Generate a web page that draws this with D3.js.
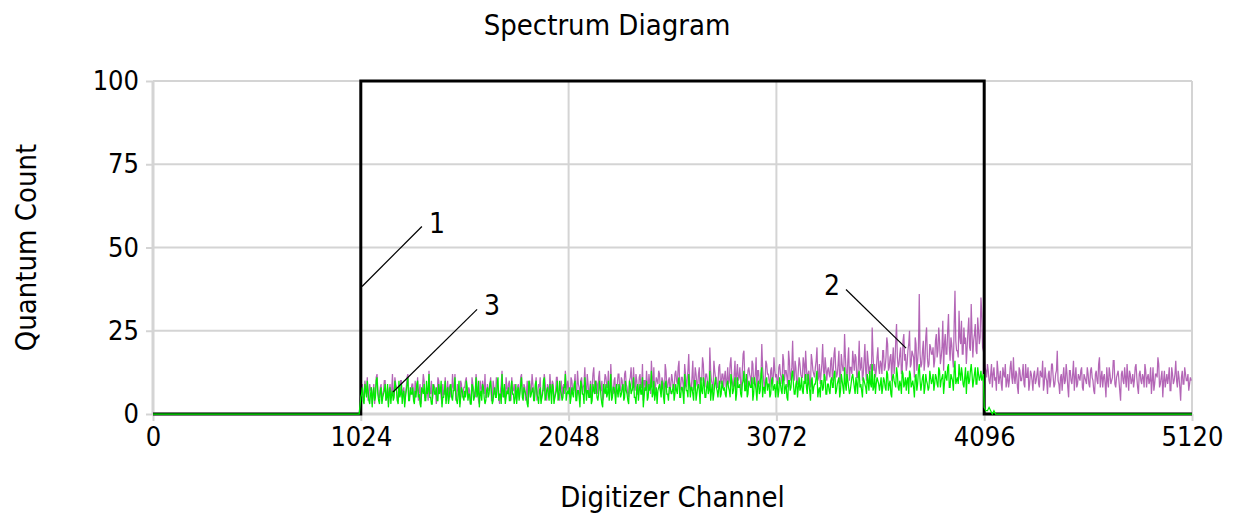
<!DOCTYPE html>
<html><head><meta charset="utf-8">
<script src="https://cdn.jsdelivr.net/npm/d3@7"></script>
<style>
body{margin:0;background:#fff;}
text{font-family:"DejaVu Sans Condensed","DejaVu Sans","Liberation Sans",sans-serif;fill:#000;}
</style></head>
<body><svg id="c" width="1234" height="517"></svg>
<script>
// ---- data ----
const xTicks = [0, 1024, 2048, 3072, 4096, 5120];
const yTicks = [0, 25, 50, 75, 100];
const channelStep = 8;   // spacing inside each sample array
const interleaveOffset = 4; // second sample array sits halfway between

// series 1 (black square window)
const windowChannels = [0, 1024, 1024, 4096, 4096, 5120];
const windowValues   = [0, 0, 100, 100, 0, 0];

// series 2 (purple)
const purpleLeadChannels = [0, 1016];
const purpleLeadValues = [0, 0];
const purpleStart = 1024;
const purpleValuesA = [
6,9,4,8,11,5,7,3,9,6,12,5,8,4,7,10,6,3,9,7,5,11,8,4,6,10,7,3,8,12,5,7,
9,4,6,11,7,3,8,10,5,7,13,6,4,9,7,5,10,8,3,6,11,7,4,9,6,8,12,5,7,3,9,6,
8,11,5,7,4,9,6,12,7,3,8,10,6,5,9,7,11,4,8,6,10,5,7,13,6,4,8,9,5,11,7,6,
4,9,7,12,5,8,6,3,10,7,9,5,11,6,8,4,7,12,6,9,5,8,10,4,7,11,6,8,5,9,13,7,
8,5,10,7,12,6,9,4,11,8,14,6,9,7,5,12,8,10,6,13,7,4,9,11,8,6,15,7,10,5,9,12,
7,10,6,13,8,5,11,9,14,7,10,6,12,8,4,10,13,7,9,16,8,6,11,9,12,7,10,5,13,8,11,9,
10,7,13,9,16,8,11,6,12,10,18,8,11,7,14,9,12,6,10,15,8,12,9,20,10,7,13,11,8,15,9,12,
11,8,14,10,17,9,12,7,15,11,9,13,19,10,8,14,11,16,9,12,7,13,10,21,11,9,15,12,8,14,10,13,
12,9,15,11,18,10,13,8,16,12,22,10,14,9,17,12,11,15,19,10,13,8,16,12,14,20,11,9,15,13,17,10,
14,11,17,13,20,11,15,9,18,13,24,12,16,10,14,19,13,17,11,22,14,10,16,13,19,12,15,26,13,11,17,14,
16,12,19,14,23,13,17,10,20,15,27,14,18,12,22,16,13,19,25,15,18,11,21,16,36,14,19,13,23,17,15,20,
18,14,22,17,26,15,20,13,24,18,30,16,21,14,37,19,17,23,28,18,21,15,25,20,33,17,24,19,29,21,35,20,
17,13,15,10,12,8,14,11,16,9,13,7,12,15,10,8,14,11,17,9,12,6,13,10,15,8,11,14,9,12,7,13,
10,14,8,12,16,9,11,6,13,10,15,8,12,19,9,11,7,14,10,12,5,13,9,16,11,8,12,10,14,7,11,9,
12,8,14,10,6,13,9,17,11,8,12,5,10,14,9,11,16,8,12,10,4,13,9,11,15,7,12,10,8,14,11,6,
13,9,11,15,8,12,10,6,14,9,12,17,8,11,5,13,10,9,14,7,12,10,16,8,11,4,13,9,12,10,7,11
];
const purpleValuesB = [
7,5,10,6,4,9,8,6,3,11,7,5,9,6,10,4,8,7,5,12,6,9,4,7,10,5,8,6,11,4,7,9,
5,10,7,4,9,6,12,5,8,4,7,10,6,8,3,11,7,5,9,6,4,10,8,5,12,7,4,9,6,10,5,8,
10,6,8,3,11,7,5,9,4,10,6,8,12,5,7,9,4,10,6,11,7,3,9,5,8,11,6,10,4,7,9,5,
8,5,11,6,9,4,10,7,5,12,6,8,4,9,11,5,7,10,4,8,12,6,9,5,11,7,4,10,8,6,9,10,
6,11,7,9,5,13,8,10,6,9,7,12,5,10,8,14,6,9,11,7,10,5,12,8,13,7,9,6,11,8,12,7,
11,7,12,9,6,10,14,7,9,12,6,11,8,15,10,7,9,12,6,11,14,8,10,13,7,11,9,15,8,10,6,12,
8,12,10,14,7,11,9,15,8,13,10,7,16,9,12,8,14,11,17,9,12,10,7,13,9,16,11,8,14,10,12,8,
13,10,9,15,11,8,16,12,10,14,7,18,11,9,13,12,8,15,10,17,13,9,11,14,8,16,12,10,13,9,17,11,
10,14,12,9,16,13,11,19,10,14,12,16,9,13,15,11,17,10,14,12,9,18,13,11,16,10,15,12,21,11,14,13,
12,16,10,18,14,12,19,11,15,13,17,10,20,14,12,16,18,11,15,13,17,12,21,10,16,14,11,18,15,13,20,12,
15,19,13,17,21,14,18,16,12,22,17,15,20,13,24,18,15,21,14,19,17,23,13,20,18,15,22,16,26,14,21,18,
20,16,24,19,22,17,28,21,18,25,20,23,17,27,22,19,31,21,18,26,23,20,29,19,24,22,27,18,25,23,30,19,
14,11,13,9,15,12,10,7,13,11,9,14,11,8,12,10,16,9,11,13,8,14,10,12,9,15,11,7,13,10,12,9,
12,9,13,11,7,14,10,12,8,15,11,9,13,10,6,12,11,9,15,8,13,10,12,7,14,9,11,13,8,12,10,14,
9,13,11,7,12,10,15,8,13,11,9,14,8,12,10,16,9,11,13,7,12,10,14,8,11,13,9,12,10,15,8,12,
10,12,8,13,11,9,14,10,7,12,11,15,9,13,10,8,12,11,7,14,9,12,10,13,8,11,9,14,10,12,9,10
];

// series 3 (green)
const greenLeadChannels = [0, 1016];
const greenLeadValues = [0, 0];
const greenStart = 1024;
const greenValuesA = [
5,8,3,7,10,4,6,2,8,5,11,4,7,3,6,9,5,2,8,6,4,10,7,3,5,9,6,2,7,11,4,6,
8,3,5,10,6,2,7,9,4,6,12,5,3,8,6,4,9,7,2,5,10,6,3,8,5,7,11,4,6,2,8,5,
7,10,4,6,3,8,5,11,6,2,7,9,5,4,8,6,10,3,7,5,9,4,6,12,5,3,7,8,4,10,6,5,
3,8,6,11,4,7,5,2,9,6,8,4,10,5,7,3,6,11,5,8,4,7,9,3,6,10,5,7,4,8,12,6,
6,3,8,5,10,4,7,2,9,6,11,4,7,5,3,9,6,8,4,10,5,2,7,9,6,4,12,5,8,3,7,9,
5,8,4,10,6,3,9,7,11,5,8,4,9,6,2,8,10,5,7,13,6,4,8,7,9,5,8,3,10,6,8,7,
7,4,9,6,11,5,8,3,9,7,12,5,8,4,10,6,9,3,7,11,5,8,6,13,7,4,9,8,5,10,6,8,
8,5,10,7,12,6,9,4,11,8,6,9,13,7,5,10,8,11,6,9,4,10,7,14,8,6,11,9,5,10,7,9,
8,5,11,7,12,6,9,4,10,8,13,6,9,5,11,8,7,10,12,6,9,4,11,8,9,13,7,5,10,8,11,6,
9,6,11,8,13,7,10,5,12,8,14,7,10,6,9,12,8,11,6,13,9,5,10,8,12,7,9,15,8,6,11,9,
9,6,11,8,13,7,10,5,12,9,14,8,10,6,12,9,7,11,13,8,10,5,12,9,15,7,11,6,12,9,8,11,
10,7,12,9,14,8,11,6,13,10,15,8,11,7,16,10,9,12,14,9,11,6,13,10,15,8,12,9,14,10,13,11
];
const greenValuesB = [
6,4,9,5,7,3,8,6,4,10,6,3,8,5,7,4,9,6,3,7,5,8,4,10,6,3,7,5,9,4,8,6,
4,7,9,5,3,8,6,4,10,7,5,3,9,6,8,4,6,10,5,7,3,8,5,9,4,7,6,3,10,5,7,4,
5,8,6,3,9,4,7,5,10,6,4,8,3,7,5,9,6,4,8,5,11,6,3,7,9,5,6,4,8,6,3,9,
7,4,9,5,8,6,3,10,5,7,4,9,6,3,8,5,10,4,7,6,9,3,8,5,7,4,10,6,5,8,4,7,
8,5,6,9,4,7,5,10,6,3,8,7,5,9,4,7,10,5,6,8,3,9,6,5,10,7,4,8,6,9,5,7,
6,9,5,7,4,10,6,8,5,3,9,7,6,11,5,7,4,9,8,5,10,6,3,8,7,10,5,9,6,4,8,6,
9,6,7,10,5,8,6,12,7,5,9,8,6,10,4,8,7,11,6,9,5,10,7,4,9,6,11,7,8,5,10,7,
6,9,8,5,10,7,11,6,8,9,5,10,7,12,6,9,8,4,11,7,9,6,12,5,8,10,7,9,6,11,8,5,
10,7,9,6,11,8,5,10,7,12,9,6,10,8,7,11,6,9,8,12,7,10,6,9,11,5,8,10,7,12,6,9,
7,10,8,12,6,9,11,7,10,6,9,12,8,7,11,10,6,9,12,8,7,11,9,6,10,13,8,7,12,9,10,7,
11,8,10,7,12,9,6,11,10,8,12,7,9,13,8,11,10,6,12,9,8,11,7,13,10,9,12,8,10,7,13,9,
12,9,11,8,13,10,12,9,11,14,8,12,10,13,9,11,15,10,12,8,14,11,9,13,12,10,14,9,12,11,10,12
];
const greenTailStart = 4096;
const greenTailValues = [2,1,1,2,1,0,1,0,0];
const greenEndChannels = [5120];
const greenEndValues = [0];

// annotations: label, leader from (channel,value) to (channel,value)
const annLabels = ["1", "3", "2"];
const annFromCh = [1030, 1183, 3711];
const annFromV  = [38.3, 6.6, 19.8];
const annToCh   = [1325, 1597, 3415];
const annToV    = [56.3, 31.4, 37.4];

// ---- drawing ----
const m = {l:153, r:1192, t:81, b:414};
const svg = d3.select("#c");
const x = d3.scaleLinear().domain([0, 5120]).range([m.l, m.r]);
const y = d3.scaleLinear().domain([0, 100]).range([m.b, m.t]);
const gridColor = "#d4d4d4";
const fontStack = '"DejaVu Sans Condensed","DejaVu Sans",sans-serif';

// grid
svg.append("g").selectAll("line").data(yTicks.filter(d=>d>0)).join("line")
  .attr("x1", m.l).attr("x2", m.r).attr("y1", d=>y(d)).attr("y2", d=>y(d))
  .attr("stroke", gridColor).attr("stroke-width", 2);
svg.append("g").selectAll("line").data(xTicks.filter(d=>d>0)).join("line")
  .attr("x1", d=>x(d)).attr("x2", d=>x(d)).attr("y1", m.t).attr("y2", m.b)
  .attr("stroke", gridColor).attr("stroke-width", 2);

// axes
const xAxis = svg.append("g").attr("transform", `translate(0,${m.b})`)
  .call(d3.axisBottom(x).tickValues(xTicks).tickSize(7).tickPadding(6).tickFormat(d3.format("d")));
const yAxis = svg.append("g").attr("transform", `translate(${m.l},0)`)
  .call(d3.axisLeft(y).tickValues(yTicks).tickSize(7).tickPadding(7));
[xAxis, yAxis].forEach(a => {
  a.select(".domain").attr("stroke", gridColor).attr("stroke-width", 3);
  a.selectAll(".tick line").attr("stroke", gridColor).attr("stroke-width", 2);
  a.selectAll(".tick text").attr("font-size", 27).attr("fill", "#000").attr("font-family", fontStack);
});
xAxis.select(".domain").attr("d", `M${m.l},0H${m.r}`);
yAxis.select(".domain").attr("d", `M0,${m.t}V${m.b}`);

// build series (interleave the two sample arrays)
function interleave(start, A, B) {
  const out = [];
  A.forEach((v,i) => {
    out.push({c: start + i*channelStep, v});
    if (i < B.length) out.push({c: start + i*channelStep + interleaveOffset, v: B[i]});
  });
  return out;
}
const purple = purpleLeadChannels.map((c,i)=>({c, v:purpleLeadValues[i]}))
  .concat(interleave(purpleStart, purpleValuesA, purpleValuesB));
const green = greenLeadChannels.map((c,i)=>({c, v:greenLeadValues[i]}))
  .concat(interleave(greenStart, greenValuesA, greenValuesB))
  .concat(greenTailValues.map((v,i)=>({c: greenTailStart + i*channelStep, v})))
  .concat(greenEndChannels.map((c,i)=>({c, v:greenEndValues[i]})));
const win = windowChannels.map((c,i)=>({c, v:windowValues[i]}));

const line = d3.line().x(d=>x(d.c)).y(d=>y(d.v));
svg.append("path").datum(purple).attr("d", line).attr("fill","none")
  .attr("stroke", "#a040a4").attr("stroke-opacity", 0.8).attr("stroke-width", 1.25);
svg.append("path").datum(win).attr("d", line).attr("fill","none")
  .attr("stroke", "#000").attr("stroke-width", 3).attr("stroke-linejoin","miter");
svg.append("path").datum(green).attr("d", line).attr("fill","none")
  .attr("stroke", "#00ee00").attr("stroke-width", 1.25);

// annotations
annLabels.forEach((lab,i)=>{
  svg.append("line")
    .attr("x1", x(annFromCh[i])).attr("y1", y(annFromV[i]))
    .attr("x2", x(annToCh[i])).attr("y2", y(annToV[i]))
    .attr("stroke", "#000").attr("stroke-width", 1.2);
  const left = annToCh[i] < annFromCh[i];
  svg.append("text")
    .attr("x", x(annToCh[i]) + (left ? -6 : 7))
    .attr("y", y(annToV[i]) + 6)
    .attr("text-anchor", left ? "end" : "start")
    .attr("font-size", 28).text(lab);
});

// titles
svg.append("text").attr("x", 607).attr("y", 35).attr("text-anchor","middle")
  .attr("font-size", 29).text("Spectrum Diagram");
svg.append("text").attr("x", (m.l+m.r)/2).attr("y", 507).attr("text-anchor","middle")
  .attr("font-size", 29).text("Digitizer Channel");
svg.append("text").attr("transform", `translate(36,${(m.t+m.b)/2}) rotate(-90)`)
  .attr("text-anchor","middle").attr("font-size", 29).text("Quantum Count");
</script></body></html>
